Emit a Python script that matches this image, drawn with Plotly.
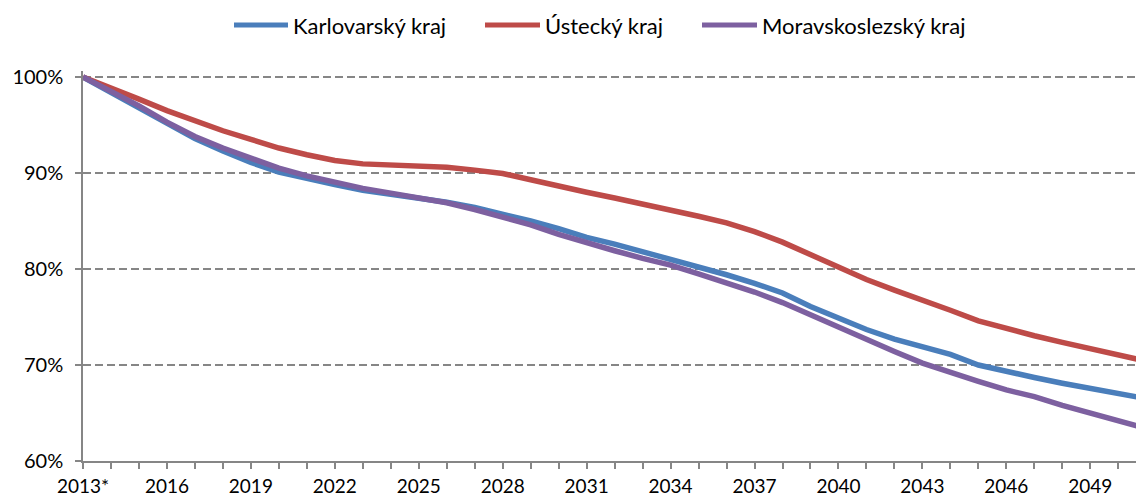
import plotly.graph_objects as go

# Population projection, share of 2013 level (%)
years = list(range(2013, 2052))

karlovarsky = [100, 98.4, 96.8, 95.1, 93.6, 92.3, 91.1, 90.1, 89.4, 88.8,
               88.2, 87.8, 87.4, 86.95, 86.4, 85.75, 85.0, 84.2, 83.3, 82.6,
               81.8, 81.1, 80.3, 79.4, 78.5, 77.5, 76.1, 74.9, 73.7, 72.7,
               71.9, 71.1, 70.0, 69.3, 68.7, 68.1, 67.6, 67.0, 66.5]

ustecky = [100, 98.9, 97.7, 96.5, 95.4, 94.4, 93.5, 92.6, 91.9, 91.3,
           90.95, 90.8, 90.7, 90.6, 90.3, 89.95, 89.3, 88.6, 88.0, 87.4,
           86.8, 86.2, 85.5, 84.8, 83.9, 82.8, 81.5, 80.2, 78.9, 77.8,
           76.8, 75.7, 74.6, 73.8, 73.05, 72.35, 71.7, 71.05, 70.4]

moravskoslezsky = [100, 98.5, 97.0, 95.3, 93.8, 92.6, 91.5, 90.5, 89.7, 89.0,
                   88.4, 87.9, 87.4, 86.9, 86.2, 85.45, 84.6, 83.6, 82.7, 81.9,
                   81.1, 80.4, 79.5, 78.6, 77.6, 76.5, 75.2, 73.9, 72.6, 71.4,
                   70.2, 69.2, 68.3, 67.4, 66.7, 65.8, 65.0, 64.2, 63.4]

series_names = ["Karlovarský kraj", "Ústecký kraj", "Moravskoslezský kraj"]
series_colors = ["#4A7EBB", "#BE4B48", "#7D60A0"]

x_tick_vals = list(range(2013, 2050, 3))
x_tick_text = ["2013*"] + [str(y) for y in x_tick_vals[1:]]
y_tick_vals = [60, 70, 80, 90, 100]
y_tick_text = [f"{v}%" for v in y_tick_vals]

FONT = "Lato, Calibri, sans-serif"
GRAY = "#868686"

# figure geometry (pixels)
W, H = 1136, 499
ML, MR, MT, MB = 83, 0, 71, 38
PW, PH = W - ML - MR, H - MT - MB


def px_to_paper_x(px):
    return (px - ML) / PW


def px_to_paper_y(py):
    return (H - MB - py) / PH


fig = go.Figure()
for name, values, color in zip(series_names,
                               [karlovarsky, ustecky, moravskoslezsky],
                               series_colors):
    fig.add_trace(go.Scatter(
        x=years, y=values, name=name, mode="lines",
        line=dict(color=color, width=5.5),
        showlegend=False,
        hovertemplate="%{x}: %{y:.1f}%<extra>" + name + "</extra>",
    ))

# legend row across the top: coloured key line followed by the series name
legend_line_px = [(234, 288), (485, 540), (702, 757)]
legend_y_px = 25
for (x0, x1), name, color in zip(legend_line_px, series_names, series_colors):
    fig.add_shape(
        type="line", xref="paper", yref="paper",
        x0=px_to_paper_x(x0), x1=px_to_paper_x(x1),
        y0=px_to_paper_y(legend_y_px), y1=px_to_paper_y(legend_y_px),
        line=dict(color=color, width=5),
    )
    fig.add_annotation(
        xref="paper", yref="paper",
        x=px_to_paper_x(x1 + 3), y=px_to_paper_y(legend_y_px + 1),
        xanchor="left", yanchor="middle", showarrow=False,
        text=name, font=dict(family=FONT, size=22, color="#000000"),
    )

fig.update_layout(
    width=W, height=H,
    margin=dict(l=ML, r=MR, t=MT, b=MB),
    paper_bgcolor="white", plot_bgcolor="white",
    font=dict(family=FONT, size=20, color="#000000"),
    showlegend=False,
    xaxis=dict(
        range=[2013, 2013 + PW / 27.98],
        automargin=False,
        tickmode="array", tickvals=x_tick_vals, ticktext=x_tick_text,
        ticks="outside", ticklen=6, tickwidth=1.5, tickcolor=GRAY,
        minor=dict(dtick=1, tick0=2013, ticks="outside", ticklen=6,
                   tickwidth=1.5, tickcolor=GRAY, showgrid=False),
        showline=True, linecolor=GRAY, linewidth=1.5,
        showgrid=False, zeroline=False,
        tickfont=dict(family=FONT, size=19, color="#000000"),
        ticklabelstandoff=1,
    ),
    yaxis=dict(
        range=[60, 60 + PH / 9.6],
        automargin=False,
        tickmode="array", tickvals=y_tick_vals, ticktext=y_tick_text,
        ticks="outside", ticklen=6, tickwidth=1.5, tickcolor=GRAY,
        showline=True, linecolor=GRAY, linewidth=1.5,
        showgrid=True, gridcolor=GRAY, gridwidth=1.5, griddash="8px,4px",
        zeroline=False,
        tickfont=dict(family=FONT, size=20, color="#000000"),
        ticklabelstandoff=8,
    ),
)

fig.write_html("out.html")
